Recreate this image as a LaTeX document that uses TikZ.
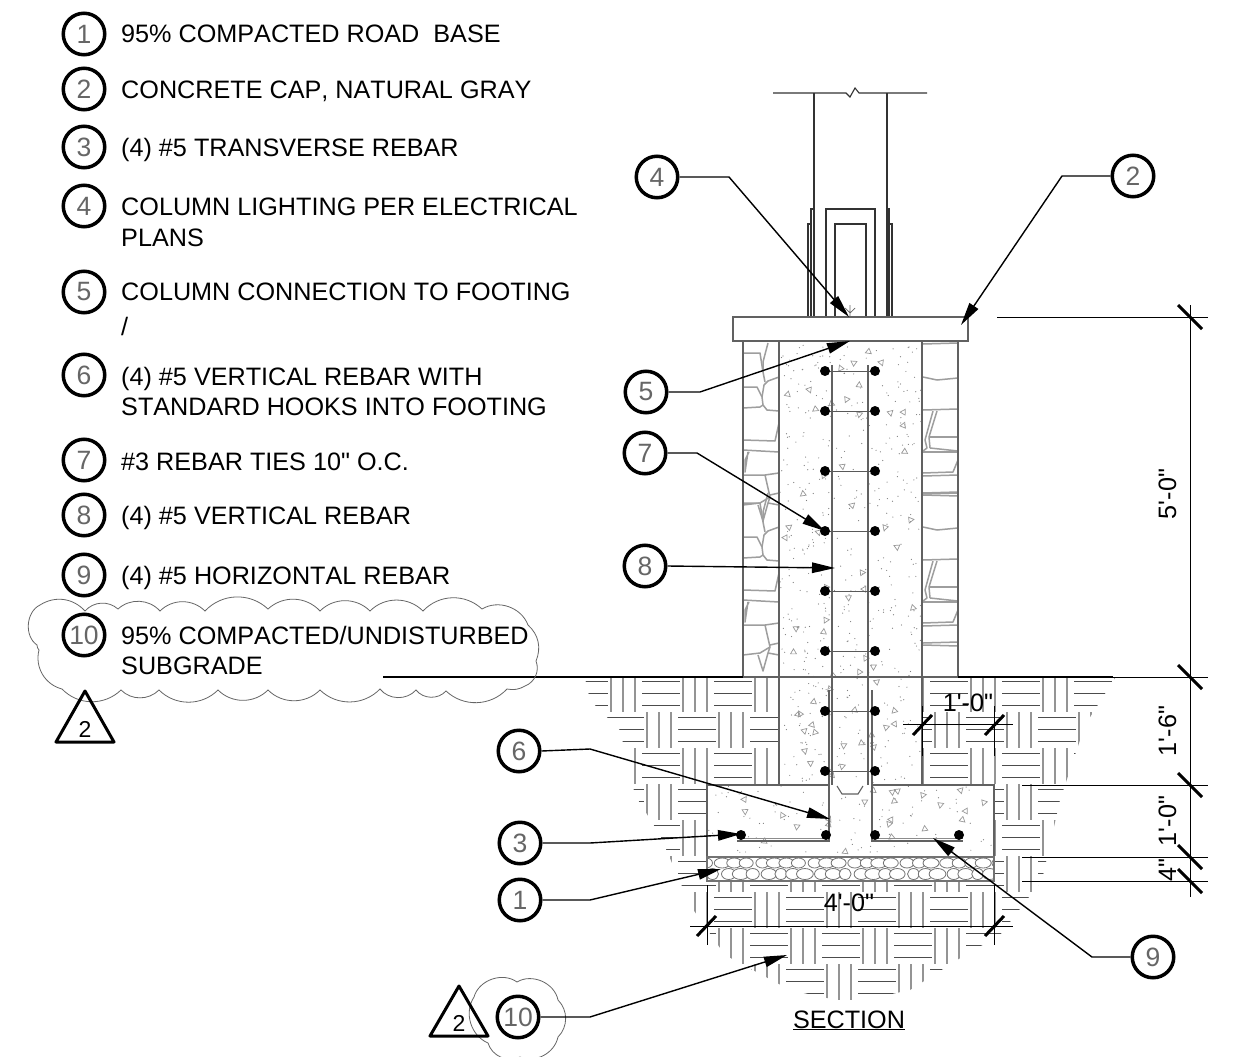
\documentclass[tikz,border=0pt]{standalone}
\usepackage{fontspec}
\setmainfont[Ligatures=TeXOff,Kerning=Off]{Liberation Sans}
\usetikzlibrary{arrows.meta,calc}
\definecolor{numg}{gray}{0.4}
\tikzset{
 x=1pt,y=-1pt,
 bubble/.style={circle,draw=black,line width=3.5pt,minimum size=41.5pt,inner sep=0pt,fill=white,text=numg,font=\fontsize{26.5}{26.5}\selectfont},
 label/.style={anchor=west,inner sep=0pt,text height=18pt,text depth=0pt,font=\fontsize{25.2}{25.2}\selectfont},
 dimtext/.style={inner sep=0pt,text height=18pt,text depth=0pt,font=\fontsize{25.2}{25.2}\selectfont},
 leader/.style={line width=1.4pt,-{Triangle[length=23pt,width=10.5pt]}},
 tick/.style={line width=3pt},
 dimln/.style={line width=0.9pt},
 hatchh/.style={line width=0.8pt,draw=black!70},
 hatchv/.style={line width=1.2pt,draw=black!42},
 outline/.style={line width=1.1pt,draw=black!62},
 stone/.style={line width=1.5pt,draw=black!38,line join=round},
 cloud/.style={line width=0.8pt,draw=black!60},
 rev/.style={line width=3pt,line join=round},
 bar/.style={circle,fill=black,inner sep=0pt,minimum size=10pt},
}
\newcommand{\basket}[2]{%
 \foreach \k in {0,12,24}{
  \draw[hatchh] (#1,#2+3+\k) -- ++(38,0);
 }}
\newcommand{\basketv}[2]{%
 \foreach \k in {0,12,24}{
  \draw[hatchv] (#1+5+\k,#2-2) -- ++(0,36);
 }}
\begin{document}
\begin{tikzpicture}
\useasboundingbox (0,0) rectangle (1242,1057);
\fill[white] (0,0) rectangle (1242,1057);
% soil hatch
\begin{scope}
\clip (585,678) -- (1115,678) -- (1085,725) -- (1060,800) -- (1042,880) -- (1000,935) -- (965,955) -- (910,990) -- (850,1003) -- (790,990) -- (725,955) -- (690,905) -- (660,835) -- (635,795) -- (620,730) -- (590,700) -- cycle;
\foreach \i in {-4,...,11}{
 \foreach \j in {-2,...,6}{
  \pgfmathtruncatemacro{\px}{714+36*\i}
  \pgfmathtruncatemacro{\py}{750+36*\j}
  \pgfmathtruncatemacro{\odd}{mod(abs(\i+\j),2)}
  \ifnum\odd=0
   \basket{\px}{\py}
  \else
   \basketv{\px}{\py}
  \fi
 }}
\end{scope}
% foundation white
\fill[white] (743,341) rectangle (958,677);
\fill[white] (779,677) rectangle (922,785);
\fill[white] (707,785) rectangle (994,881);
% concrete stipple
\pgfmathsetseed{4242}
\begin{scope}
\clip (779,343) rectangle (922,785) (707,785) rectangle (994,857);
\foreach \n in {1,...,480}{
 \pgfmathsetmacro{\dx}{780+rnd*141}
 \pgfmathsetmacro{\dy}{345+rnd*440}
 \fill[black!50] (\dx,\dy) circle (0.6);
}
\foreach \n in {1,...,90}{
 \pgfmathsetmacro{\dx}{708+rnd*285}
 \pgfmathsetmacro{\dy}{786+rnd*70}
 \fill[black!50] (\dx,\dy) circle (0.6);
}
\foreach \n in {1,...,58}{
 \pgfmathsetmacro{\dx}{785+rnd*130}
 \pgfmathsetmacro{\dy}{348+rnd*432}
 \pgfmathsetmacro{\dr}{rnd*360}
 \draw[black!40,line width=0.7pt,rotate around={\dr:(\dx,\dy)}] (\dx,\dy) +(0,-3) -- +(3,2) -- +(-3,2) -- cycle;
}
\foreach \n in {1,...,24}{
 \pgfmathsetmacro{\dx}{712+rnd*278}
 \pgfmathsetmacro{\dy}{790+rnd*62}
 \pgfmathsetmacro{\dr}{rnd*360}
 \draw[black!40,line width=0.7pt,rotate around={\dr:(\dx,\dy)}] (\dx,\dy) +(0,-3) -- +(3,2) -- +(-3,2) -- cycle;
}
\end{scope}
% stones
\begin{scope}
\clip (743,341) rectangle (958,677);
\foreach \s in {0,150}{
\begin{scope}[shift={(0,\s)}]
 \draw[stone] (743,353)--(760,353)--(763,372);
 \draw[stone] (768,343)--(763,362)--(763,372)--(765,382);
 \draw[stone] (743,387)--(757,387)--(762,397)--(763,405)--(767,410)--(779,411);
 \draw[stone] (743,408)--(760,407)--(763,405);
 \draw[stone] (779,377)--(768,381)--(764,385)--(762,397);
 \draw[stone] (743,440)--(775,441)--(779,423);
 \draw[stone] (743,450)--(779,452);
 \draw[stone] (749,452)--(745,460)--(745,472)--(748,452);
 \draw[stone] (743,475)--(765,475)--(770,497)--(768,503)--(779,505)--(779,493)--(770,495);
 \draw[stone] (765,475)--(779,473);
 \draw[stone] (743,505)--(760,503)--(770,497);
 \draw[stone] (758,505)--(763,521)--(768,503);
 % right
 \draw[stone] (923,344)--(958,343);
 \draw[stone] (923,377)--(937,380)--(958,378);
 \draw[stone] (923,410)--(958,409);
 \draw[stone] (933,411)--(925,440)--(927,448)--(923,451);
 \draw[stone] (937,411)--(929,437)--(930,448);
 \draw[stone] (929,437)--(958,437);
 \draw[stone] (930,448)--(958,451);
 \draw[stone] (923,452)--(958,452);
 \draw[stone] (923,473)--(953,472)--(958,460);
 \draw[stone] (923,476)--(958,475);
 \draw[stone] (923,493)--(958,492);
 \draw[stone] (923,495)--(958,496);
\end{scope}}
\end{scope}
% column + plates
\begin{scope}[outline/.append style={draw=black!80}]
\draw[outline] (814,93) -- (814,317) (887,93) -- (887,317);
\draw[outline] (811,317) |- (814,209) (889,317) |- (887,209);
\draw[outline] (808,317) |- (811,224) (892,317) |- (889,224);
\draw[outline] (826,317) |- (875,209) -- (875,317);
\draw[outline] (835,317) |- (866,224) -- (866,317);
\draw[outline] (773,93) -- (846,93) -- (850,97) -- (855,88) -- (859,93) -- (927,93);
\end{scope}
\draw[black!60,line width=0.7pt] (850,305) -- (850,317) (845,308) -- (850,313) -- (855,308);
% cap
\draw[outline,fill=white] (733,317) rectangle (968,341);
% walls
\draw[outline] (743,341) -- (743,677) (779,341) -- (779,785) (922,341) -- (922,785) (958,341) -- (958,677);
\draw[outline] (743,677) -- (958,677);
\draw[outline] (832,365) -- (832,785) (868,365) -- (868,785);
% footing
\draw[outline] (829,785) -- (707,785) -- (707,857) (872,785) -- (994,785) -- (994,857);
\draw[outline] (837,786) -- (842,794) -- (858,794) -- (863,786);
\draw[outline] (829,690) -- (829,841) -- (737,841);
\draw[outline] (872,690) -- (872,841) -- (963,841);
\draw[black!45,line width=0.8pt] (737,838) -- (829,838) (872,838) -- (963,838);
% gravel
\begin{scope}
\clip (707,857) rectangle (994,881);
\foreach \i in {0,...,22}{
 \pgfmathsetmacro{\gx}{706+\i*13.2+mod(\i*5,7)*0.6}
 \pgfmathsetmacro{\ga}{6.5+mod(\i*3,4)*0.5}
 \pgfmathsetmacro{\gb}{6+mod(\i*7,5)*0.6}
 \draw[black!55,line width=0.8pt,fill=white] (\gx,863) ellipse (\ga pt and 5pt);
 \draw[black!55,line width=0.8pt,fill=white] (\gx+6.5,874) ellipse (\gb pt and 5.5pt);
}
\end{scope}
\draw[line width=2.8pt,black!55] (707,857) rectangle (994,881);
% grade
\draw[line width=2.4pt] (383,677) -- (743,677) (958,677) -- (1113,677);
% bars
\foreach \yy [count=\q] in {371,411,471,531,591,651,711,771}{
 \draw[black!65,line width=1pt] (825,\yy) -- (875,\yy);
 \node[bar] (la\q) at (825,\yy) {};
 \node[bar] (ra\q) at (875,\yy) {};
}
\node[bar] (f1) at (741,835) {};
\node[bar] (f2) at (826,835) {};
\node[bar] (f3) at (875,835) {};
\node[bar] (f4) at (959,835) {};
% dims
\draw[dimln] (997,317) -- (1208,317) (1113,677) -- (1208,677) (1022,785) -- (1208,785) (1022,857) -- (1208,857) (1022,881) -- (1208,881);
\draw[dimln] (1190,305) -- (1190,897);
\foreach \yy in {317,677,785,857,881}{
 \draw[tick] (1178,\yy-12) -- (1202,\yy+12);
}
\draw[dimln] (903,724) -- (1013,724) (922,706) -- (922,756) (994,706) -- (994,756);
\draw[tick] (913,735) -- (932,715); \draw[tick] (985,735) -- (1004,715);
\draw[dimln] (690,926) -- (1013,926) (707,885) -- (707,945) (994,885) -- (994,945);
\draw[tick] (697,936) -- (716,916); \draw[tick] (985,936) -- (1004,916);
\node[dimtext] (d1) at (968,702) {1'-0"};
\node[dimtext] (d2) at (849,902) {4'-0"};
\node[dimtext,rotate=90] (d3) at (1167,494) {5'-0"};
\node[dimtext,rotate=90] (d4) at (1167,731) {1'-6"};
\node[dimtext,rotate=90] (d5) at (1167,821) {1'-0"};
\node[dimtext,rotate=90] (d6) at (1167,870) {4"};
% section
\node[dimtext] (sec) at (849,1019) {\underline{SECTION}};
% clouds
\draw[cloud] (85,611) to[bend left=45] (118,609) to[bend left=45] (160,611) to[bend left=45] (205,611) to[bend left=45] (268,609) to[bend left=45] (320,611) to[bend left=45] (370,611) to[bend left=45] (423,611) to[bend left=45] (482,609) to[bend left=50] (528,625) to[bend left=35] (536,661) to[bend left=45] (525,686) to[bend left=20] (507,689) to[bend left=45] (446,691) to[bend left=50] (416,690) to[bend left=50] (380,689) to[bend left=45] (320,690) to[bend left=45] (268,690) to[bend left=45] (218,690) to[bend left=45] (159,690) to[bend left=45] (121,690) to[bend left=45] (62,689) to[bend left=45] (39,650) to[bend left=20] (37,645) to[bend left=60] (40,605) to[bend left=40] (85,611);
\begin{scope}
\clip (440,960) rectangle (600,1057);
\draw[cloud] (517,982) to[bend left=55] (558,1000) to[bend left=45] (558,1037) to[bend left=50] (520,1057) to[bend left=50] (488,1043) to[bend left=50] (474,997) to[bend left=55] (517,982);
\end{scope}
% triangles
\draw[rev] (85,691) -- (114,742) -- (56,742) -- cycle;
\node[inner sep=0pt,font=\fontsize{23}{23}\selectfont] (t1) at (85,729) {2};
\draw[rev] (459,986) -- (488,1036) -- (430,1036) -- cycle;
\node[inner sep=0pt,font=\fontsize{23}{23}\selectfont] (t2) at (459,1023) {2};
% legend
\foreach \yy/\nn in {34/1,89/2,147/3,206/4,292/5,375/6,460/7,515/8,575/9,635/10}{
 \node[bubble] (k\nn) at (84,\yy) {\nn};
}
\node[label] (l1) at (121,34) {95\% COMPACTED ROAD\ \ BASE};
\node[label] (l2) at (121,89) {CONCRETE CAP, NATURAL GRAY};
\node[label] (l3) at (121,147) {(4) \#5 TRANSVERSE REBAR};
\node[label] (l4) at (121,206) {COLUMN LIGHTING PER ELECTRICAL};
\node[label] (l4b) at (121,237) {PLANS};
\node[label] (l5) at (121,291) {COLUMN CONNECTION TO FOOTING};
\node[label] (l5b) at (121,326) {/};
\node[label] (l6) at (121,376) {(4) \#5 VERTICAL REBAR WITH};
\node[label] (l6b) at (121,406) {STANDARD HOOKS INTO FOOTING};
\node[label] (l7) at (121,461) {\#3 REBAR TIES 10" O.C.};
\node[label] (l8) at (121,515) {(4) \#5 VERTICAL REBAR};
\node[label] (l9) at (121,575) {(4) \#5 HORIZONTAL REBAR};
\node[label] (l10) at (121,635) {95\% COMPACTED/UNDISTURBED};
\node[label] (l10b) at (121,665) {SUBGRADE};
% callouts
\foreach \nn/\xx/\yy in {4/657/177,2/1133/176,5/646/392,7/645/453,8/645/566,6/519/751,3/520/843,1/520/900,9/1153/957,10/518/1017}{
 \node[bubble] (b\nn) at (\xx,\yy) {\nn};
}
\coordinate (e4) at (729,177); \coordinate (t4) at (849,317);
\coordinate (e2) at (1062,176); \coordinate (t2a) at (961,325);
\coordinate (e5) at (700,392); \coordinate (t5) at (850,341);
\coordinate (e7) at (697,453); \coordinate (t7) at (825,531);
\coordinate (t8) at (835,568);
\coordinate (e6) at (590,749); \coordinate (t6) at (830,819);
\coordinate (e3) at (590,843); \coordinate (t3) at (741,834);
\coordinate (e1) at (590,900); \coordinate (t1a) at (721,869);
\coordinate (e9) at (1092,957); \coordinate (t9) at (933,838);
\coordinate (e10) at (590,1017); \coordinate (t10) at (787,955);
\draw[leader] (b4.east) -- (e4) -- (t4);
\draw[leader] (b2.west) -- (e2) -- (t2a);
\draw[leader] (b5.east) -- (e5) -- (t5);
\draw[leader] (b7.east) -- (e7) -- (t7);
\draw[leader] (b8.east) -- (t8);
\draw[leader] (b6.east) -- (e6) -- (t6);
\draw[leader] (b3.east) -- (e3) -- (t3);
\draw[leader] (b1.east) -- (e1) -- (t1a);
\draw[leader] (b9.west) -- (e9) -- (t9);
\draw[leader] (b10.east) -- (e10) -- (t10);
\end{tikzpicture}
\end{document}
